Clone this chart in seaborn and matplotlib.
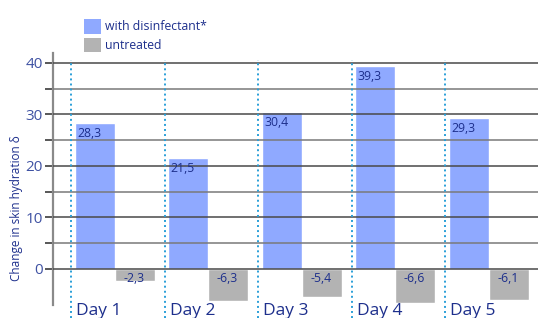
import matplotlib
matplotlib.use("Agg")
import matplotlib.pyplot as plt
import matplotlib.transforms as mtransforms
from matplotlib.patches import Patch
import numpy as np
import pandas as pd
import seaborn as sns

# data
days = ["Day 1", "Day 2", "Day 3", "Day 4", "Day 5"]
disinfectant = [28.3, 21.5, 30.4, 39.3, 29.3]
untreated = [-2.3, -6.3, -5.4, -6.6, -6.1]
series_names = ["with disinfectant*", "untreated"]
y_ticks = [0, 10, 20, 30, 40]

BLUE = "#8fa9ff"
GREY = "#b3b3b3"
NAVY = "#1d2f8c"
TICK_BLUE = "#3f52a3"
DOT_BLUE = "#2a9fd8"

df = pd.DataFrame({
    "day": days * 2,
    "value": disinfectant + untreated,
    "series": [series_names[0]] * len(days) + [series_names[1]] * len(days),
})

sns.set_style("white")
plt.rcParams["font.family"] = ["Open Sans", "DejaVu Sans"]

fig = plt.figure(figsize=(5.38, 3.18), dpi=100)
ax = fig.add_axes([53 / 538, 13 / 318, 485 / 538, 252 / 318])

sns.barplot(
    data=df, x="day", y="value", hue="series",
    palette=[BLUE, GREY], width=0.86, saturation=1,
    legend=False, ax=ax, zorder=1,
)

ax.set_xlim(-0.66, 4.527)
ax.set_ylim(-7, 41.9)

# gridlines every 5, drawn over the bars
for y in np.arange(0, 41, 5):
    col = "#4a4a4a" if y % 10 == 0 else "#7a7a7a"
    ax.axhline(y, color=col, lw=1.3, alpha=0.85, zorder=3)

# dotted separators between the days
for i in range(len(days)):
    ax.plot([i - 0.465, i - 0.465], [-9.5, 40.5], color=DOT_BLUE, lw=1.4,
            ls=(0, (1, 1.6)), clip_on=False, zorder=4)

# value labels inside the bars
for i, (b, g) in enumerate(zip(disinfectant, untreated)):
    ax.text(i - 0.4, b - 0.7, f"{b:.1f}".replace(".", ","), color=NAVY,
            fontsize=8.8, ha="left", va="top", zorder=5)
    ax.text(i + 0.09, -0.5, f"{g:.1f}".replace(".", ","), color=NAVY,
            fontsize=8.8, ha="left", va="top", zorder=5)

# day labels below the plot
trans = mtransforms.blended_transform_factory(ax.transData, ax.transAxes)
ax.set_xticks([])
for i, d in enumerate(days):
    ax.text(i - 0.41, -0.022, d, transform=trans, color=NAVY, fontsize=12.5,
            ha="left", va="center", clip_on=False)

ax.set_yticks(y_ticks)
ax.set_yticks([5, 15, 25, 35], minor=True)
ax.set_yticklabels([str(t) for t in y_ticks], color=TICK_BLUE, fontsize=11)
ax.tick_params(axis="y", which="both", length=6, width=1.3, color="#4a4a4a",
               pad=1.5, left=True)
ax.set_xlabel("")
ax.set_ylabel("")

for side in ["top", "right", "bottom"]:
    ax.spines[side].set_visible(False)
ax.spines["left"].set_color("#8a8a8a")
ax.spines["left"].set_linewidth(1.6)

fig.text(17 / 538, 1 - 208 / 318, "Change in skin hydration δ", rotation=90,
         color=NAVY, fontsize=8.5, ha="center", va="center")

handles = [Patch(facecolor=BLUE, edgecolor="none"), Patch(facecolor=GREY, edgecolor="none")]
leg = fig.legend(handles, series_names, loc="upper left",
                 bbox_to_anchor=(73 / 538, 1 - 8 / 318), frameon=False,
                 fontsize=8.8, handlelength=1.4, handleheight=1.5,
                 handletextpad=0.35, labelspacing=0.3)
for t in leg.get_texts():
    t.set_color(NAVY)

fig.savefig("out.png", dpi=100)
